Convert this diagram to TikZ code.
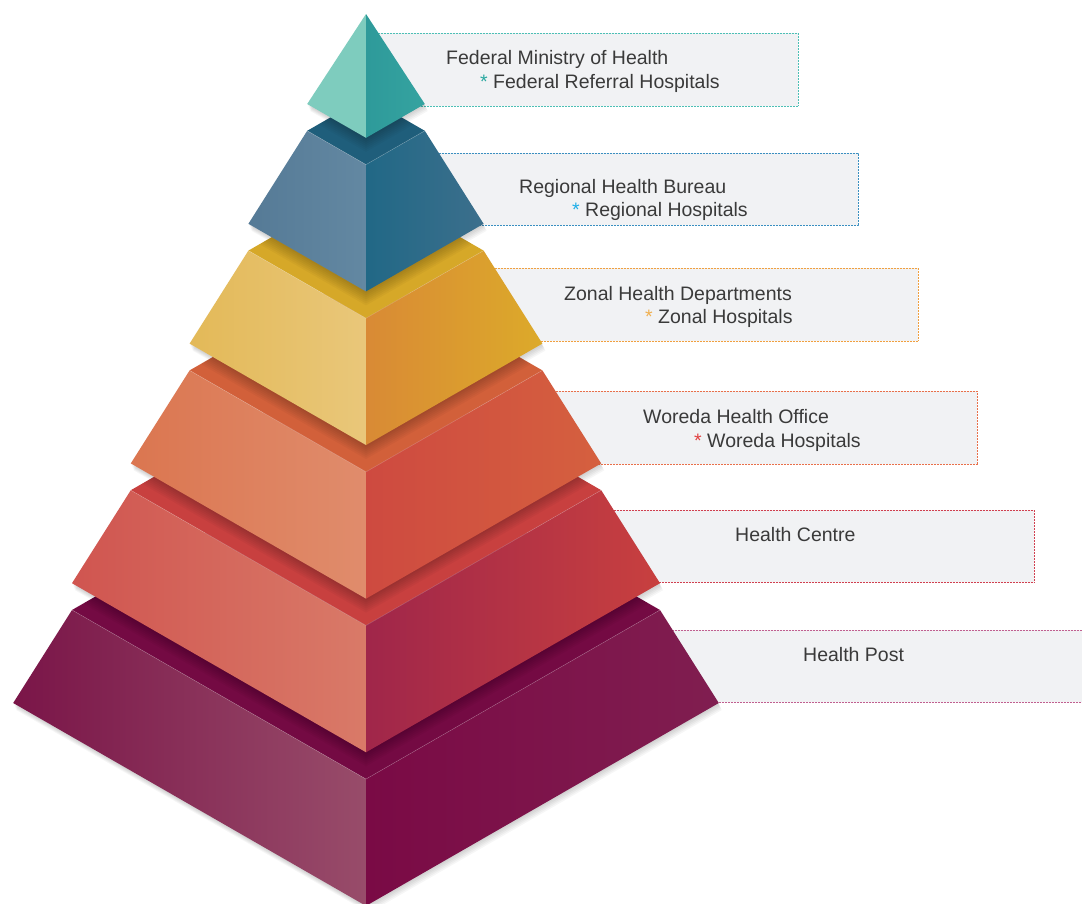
\documentclass[tikz,border=0pt]{standalone}
\usepackage{fontspec}
\setmainfont{Liberation Sans}
\usetikzlibrary{calc}
\definecolor{boxgray}{HTML}{F1F2F4}
\definecolor{txt}{HTML}{3A3A3A}
% borders
\definecolor{bdA}{HTML}{4DBFB5}
\definecolor{bdB}{HTML}{3A8FC0}
\definecolor{bdC}{HTML}{F0A040}
\definecolor{bdD}{HTML}{E8704A}
\definecolor{bdE}{HTML}{D04050}
\definecolor{bdF}{HTML}{C06090}
% asterisks
\definecolor{asA}{HTML}{2AA8A0}
\definecolor{asB}{HTML}{1EAEE8}
\definecolor{asC}{HTML}{F0B050}
\definecolor{asD}{HTML}{E04040}
% faces
\definecolor{tealL}{HTML}{7ECCBE}
\definecolor{tealRa}{HTML}{2E9A9A}
\definecolor{tealRb}{HTML}{35A3A0}
\definecolor{bluLa}{HTML}{557A96}
\definecolor{bluLb}{HTML}{6388A2}
\definecolor{bluRa}{HTML}{216886}
\definecolor{bluRb}{HTML}{3C6F8C}
\definecolor{bluT}{HTML}{1F5E7B}
\definecolor{yelLa}{HTML}{E3B958}
\definecolor{yelLb}{HTML}{E9C77A}
\definecolor{yelRa}{HTML}{D98A35}
\definecolor{yelRb}{HTML}{DCAA2A}
\definecolor{yelT}{HTML}{D6A828}
\definecolor{oraLa}{HTML}{DB7650}
\definecolor{oraLb}{HTML}{E08C6C}
\definecolor{oraRa}{HTML}{CE4A40}
\definecolor{oraRb}{HTML}{D5603F}
\definecolor{oraT}{HTML}{D2603A}
\definecolor{redLa}{HTML}{D05550}
\definecolor{redLb}{HTML}{D97A68}
\definecolor{redRa}{HTML}{A0264A}
\definecolor{redRb}{HTML}{C8403F}
\definecolor{redT}{HTML}{C8403F}
\definecolor{purLa}{HTML}{7A1548}
\definecolor{purLb}{HTML}{984C6A}
\definecolor{purRa}{HTML}{7A0A45}
\definecolor{purRb}{HTML}{801E50}
\definecolor{purT}{HTML}{740A43}
\newcommand\pyrgeom[1]{%
  \pgfmathsetmacro\wb{58.8*(#1+1)}%
  \pgfmathsetmacro\wt{58.8*#1}%
  \pgfmathsetmacro\yb{104+119.8*#1}%
  \pgfmathsetmacro\yt{\yb-93}%
  \pgfmathsetmacro\db{0.575*\wb}%
  \pgfmathsetmacro\dt{0.575*\wt}%
  \pgfmathsetmacro\ys{\yt-26.8}%
}
\newcommand\pyrshadow[1]{%
  \pyrgeom{#1}%
  \foreach \o in {1,2,3,4,5}{
    \fill[black,opacity=0.035] (366-\wt+\o*0.6,\yt+\o*1.4) -- (366+\o*0.6,\yt-\dt+\o*1.4) -- (366+\wt+\o*0.6,\yt+\o*1.4)
      -- (366+\wb+\o*0.6,\yb+\o*1.4) -- (366+\o*0.6,\yb+\db+\o*1.4) -- (366-\wb+\o*0.6,\yb+\o*1.4) -- cycle;}
}
\newcommand\pyrlayer[6]{%
  \pyrgeom{#1}%
  \coordinate (TL#1) at (366-\wt,\yt);
  \coordinate (TB#1) at (366,\yt-\dt);
  \coordinate (TR#1) at (366+\wt,\yt);
  \coordinate (TF#1) at (366,\yt+\dt);
  \coordinate (BL#1) at (366-\wb,\yb);
  \coordinate (BR#1) at (366+\wb,\yb);
  \coordinate (BF#1) at (366,\yb+\db);
  \fill[#6] (TL#1) -- (TB#1) -- (TR#1) -- (TF#1) -- cycle;
  \begin{scope}
    \clip (TL#1) -- (TB#1) -- (TR#1) -- (TF#1) -- cycle;
    \foreach \o in {2,4,6,8,10,12,14}{
      \fill[black,opacity=0.03] (366-\wt,\ys+\o) -- (366,\ys-\dt+\o) -- (366+\wt,\ys+\o) -- (366,\ys+\dt+\o) -- cycle;}
  \end{scope}
  \shade[left color=#2,right color=#3] (TL#1) -- (TF#1) -- (BF#1) -- (BL#1) -- cycle;
  \shade[left color=#4,right color=#5] (TF#1) -- (TR#1) -- (BR#1) -- (BF#1) -- cycle;
  \draw[white,opacity=0.25,line width=0.5pt] (TL#1) -- (TF#1) -- (TR#1);
}
\begin{document}
\begin{tikzpicture}[x=1pt,y=-1pt,
  lbl/.style={font=\fontsize{19.5}{23}\selectfont,text=txt,inner sep=0pt,anchor=base west},
  infobox/.style={fill=boxgray,draw=#1,line width=0.9pt,dash pattern=on 0.9pt off 0.6pt}]
\useasboundingbox (0,0) rectangle (1082,903);
\fill[white] (0,0) rectangle (1082,903);
% label boxes
\draw[infobox=bdA] (366,33) rectangle (798,106);
\draw[infobox=bdB] (366,153) rectangle (858,225);
\draw[infobox=bdC] (366,268) rectangle (918,341);
\draw[infobox=bdD] (366,391) rectangle (977,464);
\draw[infobox=bdE] (366,510) rectangle (1034,582);
\draw[infobox=bdF] (366,630) rectangle (1090,702);
% soft drop shadows of the layers
\pyrshadow{5}
\pyrshadow{4}
\pyrshadow{3}
\pyrshadow{2}
\pyrshadow{1}
\foreach \o in {1,2,3,4,5}{
  \fill[black,opacity=0.035] (366+\o*0.6,14+\o*1.4) -- (424.8+\o*0.6,104+\o*1.4) -- (366+\o*0.6,137.8+\o*1.4) -- (307.2+\o*0.6,104+\o*1.4) -- cycle;}
% pyramid layers
\pyrlayer{5}{purLa}{purLb}{purRa}{purRb}{purT}
\pyrlayer{4}{redLa}{redLb}{redRa}{redRb}{redT}
\pyrlayer{3}{oraLa}{oraLb}{oraRa}{oraRb}{oraT}
\pyrlayer{2}{yelLa}{yelLb}{yelRa}{yelRb}{yelT}
\pyrlayer{1}{bluLa}{bluLb}{bluRa}{bluRb}{bluT}
\coordinate (apex) at (366,14);
\coordinate (BL0) at (307.2,104);
\coordinate (BR0) at (424.8,104);
\coordinate (BF0) at (366,137.8);
\fill[tealL] (apex) -- (BF0) -- (BL0) -- cycle;
\shade[left color=tealRa,right color=tealRb] (apex) -- (BR0) -- (BF0) -- cycle;
% labels
\node[lbl] (t1a) at (446,64) {Federal Ministry of Health};
\node[lbl] (t1b) at (480,88) {\textcolor{asA}{*}\ Federal Referral Hospitals};
\node[lbl] (t2a) at (519,193) {Regional Health Bureau};
\node[lbl] (t2b) at (572,216) {\textcolor{asB}{*}\ Regional Hospitals};
\node[lbl] (t3a) at (564,300) {Zonal Health Departments};
\node[lbl] (t3b) at (645,323) {\textcolor{asC}{*}\ Zonal Hospitals};
\node[lbl] (t4a) at (643,423) {Woreda Health Office};
\node[lbl] (t4b) at (694,447) {\textcolor{asD}{*}\ Woreda Hospitals};
\node[lbl] (t5a) at (735,541) {Health Centre};
\node[lbl] (t6a) at (803,661) {Health Post};
\end{tikzpicture}
\end{document}
